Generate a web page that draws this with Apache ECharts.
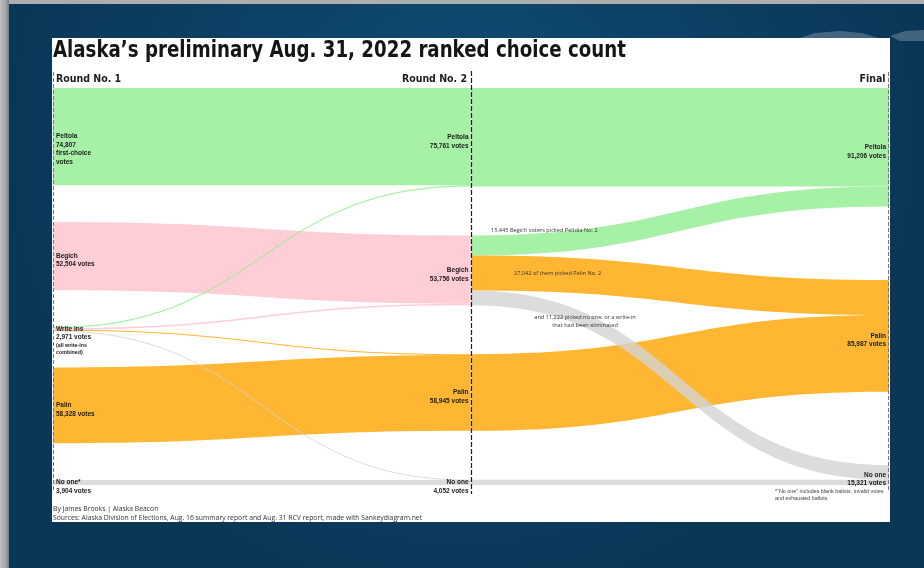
<!DOCTYPE html>
<html>
<head>
<meta charset="utf-8">
<script src="https://cdn.jsdelivr.net/npm/echarts@6/dist/echarts.min.js"></script>
<style>
html,body{margin:0;padding:0;background:#0a3757;overflow:hidden;}
#c{width:924px;height:568px;}
</style>
</head>
<body>
<div id="c"></div>
<script>
// ---------- data ----------
const nodeNames = ['Peltola R1','Begich R1','Write ins','Palin R1','No one R1',
                   'Peltola R2','Begich R2','Palin R2','No one R2',
                   'Peltola F','Palin F','No one F'];
const nodeColumns = [0,0,0,0,0, 1,1,1,1, 2,2,2];
const nodeColors = ['#90ee90','#ffc0cb','#d3d3d3','#ffa500','#d3d3d3',
                    '#90ee90','#ffc0cb','#ffa500','#d3d3d3',
                    '#90ee90','#ffa500','#d3d3d3'];
const nodeLabels = [
  'Peltola\n74,807\nfirst-choice\nvotes',
  'Begich\n52,504 votes',
  'Write ins\n2,971 votes\n{s|(all write-ins}\n{s|combined)}',
  'Palin\n58,328 votes',
  'No one*\n3,904 votes',
  'Peltola\n75,761 votes',
  'Begich\n53,756 votes',
  'Palin\n58,945 votes',
  'No one\n4,052 votes',
  'Peltola\n91,206 votes',
  'Palin\n85,987 votes',
  'No one\n15,321 votes'
];
// links listed in drawing order (later ones are painted on top)
const linkSources = ['Peltola R1','Begich R1','Palin R1','No one R1',
                     'Peltola R2','Begich R2','Begich R2','Palin R2','No one R2','Begich R2',
                     'Write ins','Write ins','Write ins','Write ins'];
const linkTargets = ['Peltola R2','Begich R2','Palin R2','No one R2',
                     'Peltola F','Peltola F','Palin F','Palin F','No one F','No one F',
                     'Peltola R2','Begich R2','Palin R2','No one R2'];
const linkValues  = [74807, 52504, 58328, 3904,
                     75761, 15445, 27042, 58945, 4052, 11222,
                     954, 1252, 617, 148];
const roundTitles = ['Round No. 1','Round No. 2','Final'];
const flowNotes = [
  '15,445 Begich voters picked Peltola No. 2',
  '27,042 of them picked Palin No. 2',
  'and 11,222 picked no one, or a write-in\nthat had been eliminated'
];
const titleText = 'Alaska\u2019s preliminary Aug. 31, 2022 ranked choice count';
const creditText = 'By James Brooks | Alaska Beacon';
const sourceText = 'Sources: Alaska Division of Elections, Aug. 16 summary report and Aug. 31 RCV report, made with Sankeydiagram.net';
const footnoteText = '*\u201cNo one\u201d includes blank ballots, invalid votes\nand exhausted ballots';

// ---------- layout constants ----------
const SK_LEFT = 53, SK_RIGHT = 35, SK_TOP = 88, SK_BOTTOM = 83;
const NODE_GAP = 36.7, NODE_W = 1;
const CW = 924, CH = 568;
const H = CH - SK_TOP - SK_BOTTOM;
const W = CW - SK_LEFT - SK_RIGHT;
const LINE_H = 8.5;

// justified vertical layout (each column spread over the full height)
const nodeVals = nodeNames.map(n => {
  let a = 0, b = 0;
  linkValues.forEach((v, k) => { if (linkSources[k] === n) a += v; if (linkTargets[k] === n) b += v; });
  return Math.max(a, b);
});
const cols = [0,1,2].map(c => nodeNames.map((_, i) => i).filter(i => nodeColumns[i] === c));
let ky = Infinity;
cols.forEach(ix => {
  const s = ix.reduce((t, i) => t + nodeVals[i], 0);
  ky = Math.min(ky, (H - (ix.length - 1) * NODE_GAP) / s);
});
const localY = [];
cols.forEach(ix => {
  const s = ix.reduce((t, i) => t + nodeVals[i], 0);
  const gap = (H - s * ky) / (ix.length - 1);
  let y = 0;
  ix.forEach(i => { localY[i] = y / H; y += nodeVals[i] * ky + gap; });
});

function labelOffset(txt) {
  const lines = txt.split('\n');
  let hgt = 0;
  lines.forEach(l => { hgt += l.indexOf('{s|') === 0 ? 7 : LINE_H; });
  return hgt / 2 - LINE_H / 2;
}

const nodes = nodeNames.map((n, i) => ({
  name: n,
  depth: nodeColumns[i],
  localY: localY[i],
  itemStyle: { color: nodeColors[i], opacity: 0.8, borderWidth: 0 },
  label: {
    show: true,
    position: nodeColumns[i] === 0 ? 'right' : 'left',
    distance: 2,
    offset: [0, labelOffset(nodeLabels[i])],
    formatter: () => nodeLabels[i],
    color: '#1c1c1c',
    fontWeight: 'bold',
    fontSize: 6.5,
    fontFamily: 'Liberation Sans, Arial, sans-serif',
    lineHeight: LINE_H,
    rich: { s: { fontSize: 5.3, lineHeight: 7, fontWeight: 'bold', color: '#1c1c1c', fontFamily: 'Liberation Sans, Arial, sans-serif' } }
  }
}));
const links = linkValues.map((v, k) => ({ source: linkSources[k], target: linkTargets[k], value: v }));

const colX = c => SK_LEFT + c * (W - NODE_W) / 2 + NODE_W / 2;

const graphics = [
  // slide background
  { type: 'rect', z: -10, shape: { x: 0, y: 0, width: CW, height: CH },
    style: { fill: { type: 'radial', x: 0.5, y: 0.25, r: 0.8,
      colorStops: [{ offset: 0, color: '#104c74' }, { offset: 1, color: '#0a3758' }] } } },
  { type: 'rect', z: -9, shape: { x: 0, y: 0, width: CW, height: 4 }, style: { fill: '#aeaeae' } },
  { type: 'rect', z: -9, shape: { x: 0, y: 0, width: 9, height: CH },
    style: { fill: { type: 'linear', x: 0, y: 0, x2: 1, y2: 0,
      colorStops: [{ offset: 0, color: '#bdbdbd' }, { offset: 0.6, color: '#a6a6a6' }, { offset: 1, color: '#6f7f8c' }] } } },
  // faint logo at top right
  { type: 'polygon', z: -8, shape: { points: [[800,38],[815,33],[840,31],[862,33],[878,38],[860,40],[820,40]] },
    style: { fill: 'rgba(170,185,200,0.35)' } },
  { type: 'polygon', z: -8, shape: { points: [[890,36],[905,31],[924,30],[924,41],[900,41]] },
    style: { fill: 'rgba(170,185,200,0.35)' } },
  // white panel
  { type: 'rect', z: -5, shape: { x: 52, y: 38, width: 838, height: 484 }, style: { fill: '#ffffff' } },
  // title
  { type: 'text', z: 50, x: 53, y: 51, scaleX: 0.88, style: { text: titleText, fill: '#151515',
      font: 'bold 23px "Liberation Sans Narrow", "DejaVu Sans Condensed", sans-serif', verticalAlign: 'middle' } },
  // round headings
  { type: 'text', z: 50, x: 56, y: 79, style: { text: roundTitles[0], fill: '#1c1c1c', align: 'left', verticalAlign: 'middle',
      font: 'bold 10.5px "Liberation Sans Narrow", "DejaVu Sans Condensed", sans-serif' } },
  { type: 'text', z: 50, x: colX(1) - 4, y: 79, style: { text: roundTitles[1], fill: '#1c1c1c', align: 'right', verticalAlign: 'middle',
      font: 'bold 10.5px "Liberation Sans Narrow", "DejaVu Sans Condensed", sans-serif' } },
  { type: 'text', z: 50, x: colX(2) - 3, y: 79, style: { text: roundTitles[2], fill: '#1c1c1c', align: 'right', verticalAlign: 'middle',
      font: 'bold 10.5px "Liberation Sans Narrow", "DejaVu Sans Condensed", sans-serif' } },
  // dashed column lines
  { type: 'line', z: 40, shape: { x1: colX(0), y1: 72, x2: colX(0), y2: 492 },
    style: { stroke: '#777777', lineWidth: 1, lineDash: [4, 2] } },
  { type: 'line', z: 40, shape: { x1: colX(1) + 0.5, y1: 71, x2: colX(1) + 0.5, y2: 494 },
    style: { stroke: '#1a1a1a', lineWidth: 1.2, lineDash: [5, 2] } },
  { type: 'line', z: 40, shape: { x1: colX(2), y1: 72, x2: colX(2), y2: 492 },
    style: { stroke: '#777777', lineWidth: 1, lineDash: [4, 2] } },
  // flow notes
  { type: 'text', z: 50, x: 491, y: 230, style: { text: flowNotes[0], fill: '#333333', verticalAlign: 'middle',
      font: '5.6px "Open Sans", sans-serif' } },
  { type: 'text', z: 50, x: 514, y: 273, style: { text: flowNotes[1], fill: '#333333', verticalAlign: 'middle',
      font: '5.6px "Open Sans", sans-serif' } },
  { type: 'text', z: 50, x: 585, y: 321, style: { text: flowNotes[2], fill: '#333333', align: 'center', verticalAlign: 'middle',
      font: '5.6px "Open Sans", sans-serif', lineHeight: 8 } },
  // credits
  { type: 'text', z: 50, x: 53, y: 509, style: { text: creditText, fill: '#333333', verticalAlign: 'middle',
      font: '6.8px "Open Sans", sans-serif' } },
  { type: 'text', z: 50, x: 53, y: 518, style: { text: sourceText, fill: '#333333', verticalAlign: 'middle',
      font: '6.8px "Open Sans", sans-serif' } },
  { type: 'text', z: 50, x: 775, y: 495, style: { text: footnoteText, fill: '#444444', verticalAlign: 'middle',
      font: '5.4px "Liberation Sans", Arial, sans-serif', lineHeight: 6.5 } }
];

const chart = echarts.init(document.getElementById('c'), null, { renderer: 'canvas' });
chart.setOption({
  animation: false,
  backgroundColor: 'transparent',
  graphic: graphics,
  series: [{
    type: 'sankey',
    left: SK_LEFT, right: SK_RIGHT, top: SK_TOP, bottom: SK_BOTTOM,
    nodeWidth: NODE_W,
    nodeGap: NODE_GAP,
    layoutIterations: 0,
    nodeAlign: 'justify',
    draggable: false,
    emphasis: { disabled: true },
    lineStyle: { color: 'target', opacity: 0.8, curveness: 0.5 },
    data: nodes,
    links: links
  }]
});
</script>
</body>
</html>
